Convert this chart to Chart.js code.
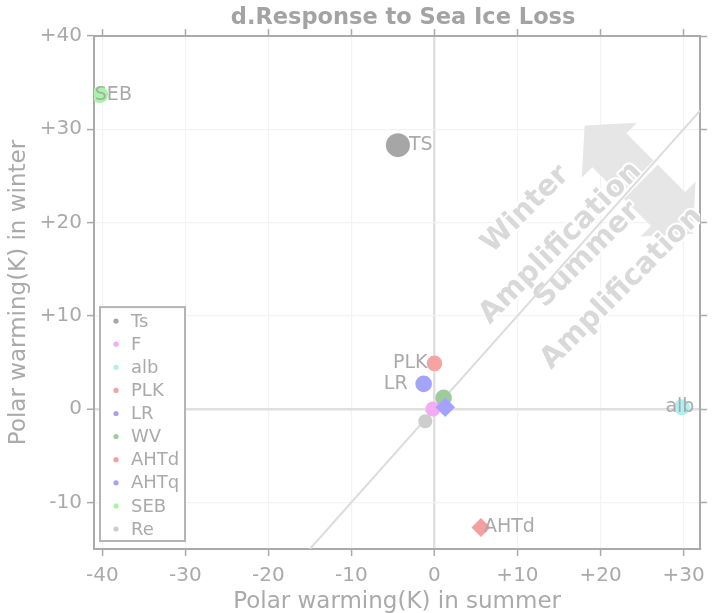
<!DOCTYPE html>
<html>
<head>
<meta charset="utf-8">
<script src="https://cdn.jsdelivr.net/npm/chart.js@4.4.1/dist/chart.umd.min.js"></script>
<style>
  html, body { margin: 0; padding: 0; background: #ffffff; }
  #wrap { width: 713px; height: 613px; }
</style>
</head>
<body>
<div id="wrap"><canvas id="c" width="713" height="613"></canvas></div>
<script>
// ---------------- data ----------------
const categories    = ['Ts', 'F', 'alb', 'PLK', 'LR', 'WV', 'AHTd', 'AHTq', 'SEB', 'Re'];
const summerWarming = [-4.4, -0.2, 29.8, 0.0, -1.3, 1.1, 5.6, 1.3, -40.3, -1.1];
const winterWarming = [28.3, 0.0, 0.2, 4.9, 2.7, 1.2, -12.7, 0.2, 33.7, -1.3];
const pointLabels   = ['TS', '', 'alb', 'PLK', 'LR', '', 'AHTd', '', 'SEB', ''];
const xTickValues   = [-40, -30, -20, -10, 0, 10, 20, 30];
const xTickLabels   = ['-40', '-30', '-20', '-10', '0', '+10', '+20', '+30'];
const yTickValues   = [-10, 0, 10, 20, 30, 40];
const yTickLabels   = ['-10', '0', '+10', '+20', '+30', '+40'];
const oneToOneLine  = [-15, 32];   // y = x

// ---------------- styles ----------------
const seriesColors = ['#a6a6a6', '#f5aaf5', '#aff0f0', '#f5a3a3', '#a3a3f7',
                      '#9ecb9e', '#f5a0a0', '#a3a3ff', '#a6f5a6', '#cdcdcd'];
const pointSizes   = [12, 7.5, 8, 7.8, 8.3, 8.3, 9.5, 9.8, 8.3, 7];
const pointShapes  = ['circle', 'circle', 'circle', 'circle', 'circle',
                      'circle', 'rectRot', 'rectRot', 'circle', 'circle'];
const labelStyle   = [
  {dx: 11, align: 'left'}, null, {dx: -2, align: 'center'}, {dx: -7, align: 'right'},
  {dx: -16, align: 'right'}, null, {dx: 3, align: 'left'}, null, {dx: -5, align: 'left'}, null
];
const annot = {
  center: {x: 24.6, y: 24.6},
  words: [
    {text: 'Winter',        x: 11.0, y: 21.4},
    {text: 'Amplification', x: 15.2, y: 17.8},
    {text: 'Summer',        x: 18.4, y: 16.5},
    {text: 'Amplification', x: 22.6, y: 12.95}
  ]
};
const FONT = "'DejaVu Sans', sans-serif";
const TXT = '#aaaaaa';

Chart.defaults.font.family = FONT;
Chart.defaults.color = TXT;

const datasets = categories.map((name, i) => ({
  label: name,
  data: [{x: summerWarming[i], y: winterWarming[i]}],
  backgroundColor: seriesColors[i],
  borderColor: seriesColors[i],
  pointBackgroundColor: seriesColors[i],
  pointBorderWidth: 0,
  borderWidth: 0,
  pointRadius: pointSizes[i],
  pointHoverRadius: pointSizes[i],
  pointStyle: pointShapes[i],
  order: 20 - i,
  clip: 0
}));
datasets.push({
  type: 'line',
  label: '1:1',
  data: oneToOneLine.map(v => ({x: v, y: v})),
  borderColor: '#dcdcdc',
  borderWidth: 2,
  pointRadius: 0,
  fill: false,
  order: 100,
  clip: 0
});

const isZero = ctx => ctx.tick && ctx.tick.value === 0;

function arrowPoly(ctx, cx, cy, ux, uy, start, len, headLen, headHalf, shaftHalf) {
  const nx = -uy, ny = ux;
  const p = (s, w) => [cx + ux * s + nx * w, cy + uy * s + ny * w];
  const pts = [p(start, shaftHalf), p(len - headLen, shaftHalf), p(len - headLen, headHalf),
               p(len, 0), p(len - headLen, -headHalf), p(len - headLen, -shaftHalf), p(start, -shaftHalf)];
  ctx.beginPath();
  ctx.moveTo(pts[0][0], pts[0][1]);
  for (let k = 1; k < pts.length; k++) ctx.lineTo(pts[k][0], pts[k][1]);
  ctx.closePath();
  ctx.fill();
}

const decor = {
  id: 'decor',
  beforeDatasetsDraw(chart) {
    const {ctx, chartArea: a, scales: {x, y}} = chart;
    ctx.save();
    ctx.beginPath();
    ctx.rect(a.left, a.top, a.right - a.left, a.bottom - a.top);
    ctx.clip();
    const cx = x.getPixelForValue(annot.center.x), cy = y.getPixelForValue(annot.center.y);
    const u = Math.SQRT1_2;
    ctx.fillStyle = '#e6e6e6';
    arrowPoly(ctx, cx, cy, -u, -u, 3, 76.5, 35, 39, 24);
    arrowPoly(ctx, cx, cy, u, u, 3, 76.5, 35, 39, 24);
    ctx.font = 'bold 29px ' + FONT;
    ctx.textAlign = 'center';
    ctx.textBaseline = 'middle';
    ctx.lineJoin = 'round';
    annot.words.forEach(w => {
      ctx.save();
      ctx.translate(x.getPixelForValue(w.x), y.getPixelForValue(w.y));
      ctx.rotate(-Math.PI / 4);
      ctx.strokeStyle = '#ffffff';
      ctx.lineWidth = 4;
      ctx.strokeText(w.text, 0, 0);
      ctx.fillStyle = '#d9d9d9';
      ctx.fillText(w.text, 0, 0);
      ctx.restore();
    });
    ctx.restore();
  },
  afterDatasetsDraw(chart) {
    const {ctx, scales: {x, y}} = chart;
    ctx.save();
    ctx.font = '19px ' + FONT;
    ctx.fillStyle = TXT;
    ctx.textBaseline = 'middle';
    categories.forEach((c, i) => {
      const t = pointLabels[i];
      if (!t) return;
      const st = labelStyle[i];
      ctx.textAlign = st.align;
      ctx.fillText(t, x.getPixelForValue(summerWarming[i]) + st.dx, y.getPixelForValue(winterWarming[i]));
    });
    ctx.restore();
  },
  afterDraw(chart) {
    const {ctx, chartArea: a} = chart;
    ctx.save();
    // title
    ctx.font = 'bold 22.5px ' + FONT;
    ctx.fillStyle = '#a3a3a3';
    ctx.textAlign = 'center';
    ctx.textBaseline = 'middle';
    ctx.fillText('d.Response to Sea Ice Loss', (a.left + a.right) / 2 + 6, 18.5);
    // legend
    const n = categories.length, step = 23.1;
    const bw = 85, bh = 14 + (n - 1) * step + 12;
    const bx = a.left + 6, by = a.bottom - 8 - bh;
    ctx.fillStyle = '#ffffff';
    ctx.fillRect(bx, by, bw, bh);
    ctx.strokeStyle = '#b4b4b4';
    ctx.lineWidth = 2;
    ctx.strokeRect(bx, by, bw, bh);
    ctx.font = '18px ' + FONT;
    ctx.textAlign = 'left';
    categories.forEach((c, i) => {
      const ly = by + 14 + i * step;
      ctx.fillStyle = seriesColors[i];
      ctx.beginPath();
      ctx.arc(bx + 16, ly, 2.6, 0, Math.PI * 2);
      ctx.fill();
      ctx.fillStyle = TXT;
      ctx.fillText(c, bx + 31, ly + 1);
    });
    ctx.restore();
  }
};

const setTicks = vals => s => { s.ticks = vals.map(v => ({value: v})); };

new Chart(document.getElementById('c'), {
  type: 'scatter',
  data: {datasets},
  plugins: [decor],
  options: {
    responsive: false,
    animation: false,
    devicePixelRatio: 1,
    layout: {padding: {top: 29, left: 0, right: 0, bottom: 0}},
    plugins: {legend: {display: false}, tooltip: {enabled: false}, title: {display: false}},
    scales: {
      x: {
        type: 'linear', position: 'bottom', min: -41, max: 32,
        afterBuildTicks: setTicks(xTickValues),
        afterFit: s => { s.height = 64; },
        ticks: {callback: (v, i) => xTickLabels[i], color: TXT, font: {size: 20}, padding: 8, maxRotation: 0, autoSkip: false},
        grid: {color: c => isZero(c) ? '#e0e0e0' : '#f3f3f3', lineWidth: c => isZero(c) ? 2.5 : 1.2,
               tickColor: '#aaaaaa', tickLength: 7, tickWidth: 1.5},
        border: {color: '#aaaaaa', width: 2},
        title: {display: true, text: 'Polar warming(K) in summer', color: TXT, font: {size: 23}, padding: {top: 0, bottom: -3}}
      },
      x2: {
        type: 'linear', position: 'top', min: -41, max: 32,
        afterBuildTicks: setTicks(xTickValues),
        afterFit: s => { s.height = 7; },
        ticks: {display: false},
        grid: {drawOnChartArea: false, tickColor: '#aaaaaa', tickLength: 7, tickWidth: 1.5},
        border: {color: '#aaaaaa', width: 2}
      },
      y: {
        type: 'linear', position: 'left', min: -15, max: 40,
        afterBuildTicks: setTicks(yTickValues),
        afterFit: s => { s.width = 94; },
        ticks: {callback: (v, i) => yTickLabels[i], color: TXT, font: {size: 20}, padding: 5, autoSkip: false},
        grid: {color: c => isZero(c) ? '#e0e0e0' : '#f3f3f3', lineWidth: c => isZero(c) ? 2.5 : 1.2,
               tickColor: '#aaaaaa', tickLength: 7, tickWidth: 1.5},
        border: {color: '#aaaaaa', width: 2},
        title: {display: true, text: 'Polar warming(K) in winter', color: TXT, font: {size: 23}, padding: {top: 5, bottom: 0}}
      },
      y2: {
        type: 'linear', position: 'right', min: -15, max: 40,
        afterBuildTicks: setTicks(yTickValues),
        afterFit: s => { s.width = 10; },
        ticks: {display: false},
        grid: {drawOnChartArea: false, tickColor: '#aaaaaa', tickLength: 7, tickWidth: 1.5},
        border: {color: '#aaaaaa', width: 2}
      }
    }
  }
});
</script>
</body>
</html>
